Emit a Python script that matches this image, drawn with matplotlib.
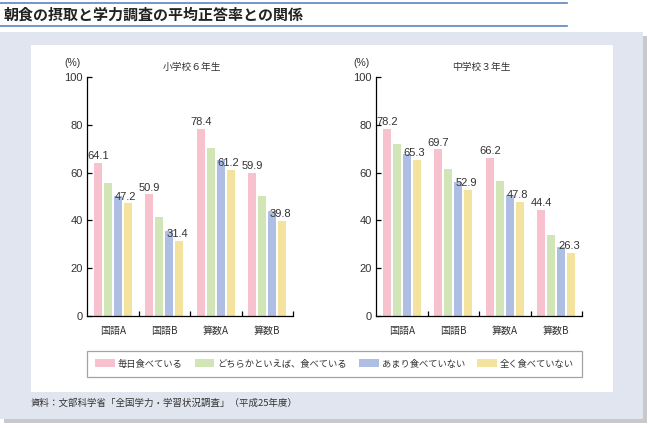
import matplotlib.pyplot as plt
from matplotlib.patches import Rectangle, Patch
from matplotlib.lines import Line2D

plt.rcParams['font.family'] = ['Noto Sans CJK JP', 'DejaVu Sans']

categories = ["国語A", "国語B", "算数A", "算数B"]
series = ["毎日食べている", "どちらかといえば、食べている", "あまり食べていない", "全く食べていない"]
colors = ["#f7c1cd", "#d2e5b6", "#afbfe3", "#f3e39e"]

# rows: category, columns: series
elem = [[64.1, 55.6, 50.3, 47.2],
        [50.9, 41.4, 35.7, 31.4],
        [78.4, 70.4, 65.4, 61.2],
        [59.9, 50.2, 43.9, 39.8]]
junior = [[78.2, 72.0, 67.8, 65.3],
          [69.7, 61.5, 56.1, 52.9],
          [66.2, 56.6, 50.8, 47.8],
          [44.4, 33.9, 28.9, 26.3]]

W, H = 650, 428
txt = "#333333"


def fx(px):
    return px / W


def fy(py):
    return 1 - py / H


fig = plt.figure(figsize=(6.5, 4.28), dpi=100)

# panel background, shadow, white box
fig.patches.append(Rectangle((fx(4), fy(423)), fx(643), 387 / H, transform=fig.transFigure,
                             facecolor="#c9c9c9", edgecolor="none", zorder=-3))
fig.patches.append(Rectangle((fx(0), fy(419)), fx(643), 387 / H, transform=fig.transFigure,
                             facecolor="#e1e5ef", edgecolor="none", zorder=-2))
fig.patches.append(Rectangle((fx(31), fy(392)), fx(582), 347 / H, transform=fig.transFigure,
                             facecolor="white", edgecolor="none", zorder=-1))

# title with blue rules
for yy in (2.5, 26):
    fig.lines.append(Line2D([0, fx(567)], [fy(yy), fy(yy)], transform=fig.transFigure,
                            color="#5b84c0", linewidth=1.2))
fig.text(fx(3), fy(14.5), "朝食の摂取と学力調査の平均正答率との関係", fontsize=10.8,
         fontweight="bold", color="#222222", va="center", ha="left")

step = 0.194
bw = 0.161


def draw(ax, data, title):
    for j in range(4):
        xs = [i + (j - 1.5) * step for i in range(4)]
        vals = [row[j] for row in data]
        ax.bar(xs, vals, width=bw, color=colors[j], zorder=2)
        if j in (0, 3):
            for x, v in zip(xs, vals):
                dx = -0.04 if j == 3 else 0
                ax.annotate(f"{v:.1f}", (x + dx, v), xytext=(0, 1.2), textcoords="offset points",
                            ha="center", va="bottom", fontsize=8, color=txt,
                            family="Liberation Sans", zorder=3)
    ax.set_xlim(-0.5, 3.5)
    ax.set_ylim(0, 100)
    ax.set_yticks(range(0, 101, 20))
    ax.set_xticks([0.5, 1.5, 2.5, 3.5])
    ax.set_xticklabels([])
    ax.set_xticks(range(4), minor=True)
    ax.set_xticklabels(categories, minor=True, fontsize=7.2, color=txt)
    ax.tick_params(axis="x", which="major", direction="in", length=3.5, width=0.9)
    ax.tick_params(axis="x", which="minor", length=0, pad=7)
    ax.tick_params(axis="y", direction="in", length=3.5, width=0.9, labelsize=8,
                   labelcolor=txt, pad=3)
    for lab in ax.get_yticklabels():
        lab.set_family("Liberation Sans")
    for s in ("top", "right"):
        ax.spines[s].set_visible(False)
    for s in ("left", "bottom"):
        ax.spines[s].set_linewidth(0.9)
    ax.text(0.51, 1.04, title, transform=ax.transAxes, ha="center", va="center",
            fontsize=7, color=txt)
    ax.text(-0.068, 1.06, "(%)", transform=ax.transAxes, ha="center", va="center",
            fontsize=7.5, color=txt, family="Liberation Sans")


ax1 = fig.add_axes([fx(87), 1 - 316 / H, 206 / W, 239 / H])
ax2 = fig.add_axes([fx(376), 1 - 316 / H, 206 / W, 239 / H])
draw(ax1, elem, "小学校６年生")
draw(ax2, junior, "中学校３年生")

handles = [Patch(facecolor=c, edgecolor="none") for c in colors]
leg = fig.legend(handles, series, loc="center", ncol=4, mode="expand",
                 bbox_to_anchor=(fx(87), fy(379), 495 / W, 30 / H),
                 frameon=True, fancybox=False, edgecolor="#8c8c8c", fontsize=6.7,
                 handlelength=2.1, handleheight=0.9, handletextpad=0.3,
                 borderpad=0.9, borderaxespad=0)
leg.get_frame().set_linewidth(0.9)
for t in leg.get_texts():
    t.set_color(txt)

fig.text(fx(31), fy(403), "資料：文部科学省「全国学力・学習状況調査」（平成25年度）",
         fontsize=6.8, color=txt, va="center", ha="left")

fig.savefig("out.png", dpi=100)
